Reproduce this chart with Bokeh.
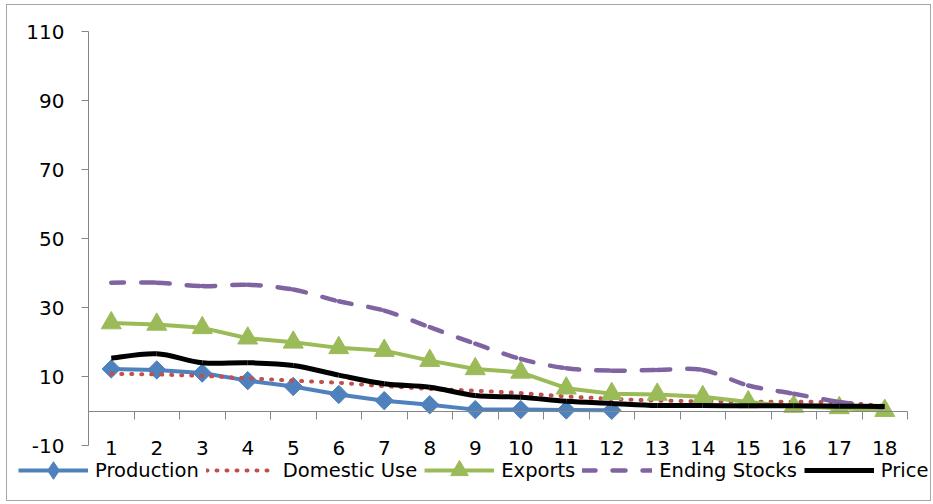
import numpy as np
from bokeh.plotting import figure
from bokeh.models import Range1d, LinearAxis, FixedTicker, Legend, LegendItem
from bokeh.embed import file_html
from bokeh.resources import INLINE

# Series values per period
years = list(range(1, 19))
production = [12.2, 11.9, 11.0, 8.8, 7.1, 4.8, 3.0, 1.8, 0.4, 0.4, 0.3, 0.2]
domestic_use = [10.8, 10.6, 10.2, 9.5, 8.8, 8.2, 7.2, 6.4, 5.9, 5.2, 4.2, 3.5,
                3.0, 2.8, 2.7, 2.7, 2.6, 1.4]
exports = [25.5, 25.1, 24.1, 21.1, 19.9, 18.3, 17.5, 14.6, 12.2, 11.2, 6.6, 5.0,
           4.8, 4.1, 2.6, 1.3, 0.9, 0.1]
ending_stocks = [37.2, 37.2, 36.2, 36.6, 35.2, 31.8, 29.1, 24.3, 19.5, 15.1, 12.4,
                 11.7, 11.9, 11.9, 7.4, 5.0, 2.6, 0.9]
price = [15.3, 16.6, 14.0, 14.0, 13.2, 10.4, 7.9, 6.9, 4.5, 4.0, 2.8, 2.2,
         1.6, 1.6, 1.5, 1.5, 1.4, 1.3]
y_ticks = [-10, 10, 30, 50, 70, 90, 110]

BLUE = "#4F81BD"
RED = "#C0504D"
GREEN = "#9BBB59"
PURPLE = "#8064A2"
AXIS = "#868686"
FONT = "DejaVu Sans"

# Canvas and plotting-area geometry (pixels)
W, H = 925, 497
AREA_L, AREA_R = 81, 900      # x extent of the category area
AREA_T, AREA_B = 26, 440      # y extent of the value axis (110 .. -10)
X_LO, X_HI = 0.5, len(years) + 0.5
Y_LO, Y_HI = y_ticks[0], y_ticks[-1]


def padded_range(lo, hi, start_px, end_px, total_px):
    per = (end_px - start_px) / (hi - lo)
    return lo - start_px / per, hi + (total_px - end_px) / per


x0, x1 = padded_range(X_LO, X_HI, AREA_L, AREA_R, W)
y0, y1 = padded_range(Y_LO, Y_HI, H - AREA_B, H - AREA_T, H)


def smooth_segments(xs, ys):
    """Cubic Bezier pieces for a smoothed line through the given points."""
    xs = np.asarray(xs, float)
    ys = np.asarray(ys, float)
    n = len(xs)
    seg = dict(x0=[], y0=[], x1=[], y1=[], cx0=[], cy0=[], cx1=[], cy1=[])
    for i in range(n - 1):
        a = max(i - 1, 0)
        b = min(i + 2, n - 1)
        seg["x0"].append(xs[i]); seg["y0"].append(ys[i])
        seg["x1"].append(xs[i + 1]); seg["y1"].append(ys[i + 1])
        seg["cx0"].append(xs[i] + (xs[i + 1] - xs[a]) / 6)
        seg["cy0"].append(ys[i] + (ys[i + 1] - ys[a]) / 6)
        seg["cx1"].append(xs[i + 1] - (xs[b] - xs[i]) / 6)
        seg["cy1"].append(ys[i + 1] - (ys[b] - ys[i]) / 6)
    return seg


p = figure(width=W, height=H,
           x_range=Range1d(x0, x1), y_range=Range1d(y0, y1),
           output_backend="svg", toolbar_location=None,
           x_axis_location=None, y_axis_location=None,
           min_border=0)
p.styles = {"border": "1px solid #a6a6a6", "margin-left": "6px", "margin-top": "4px"}
p.outline_line_color = None
p.grid.visible = False
p.background_fill_color = "white"
p.border_fill_color = "white"

# value axis, stopping at -10 and 110
ya = LinearAxis(fixed_location=X_LO, bounds=(Y_LO, Y_HI),
                ticker=FixedTicker(ticks=y_ticks, minor_ticks=[]))
ya.major_label_overrides = {v: str(v) for v in y_ticks}
ya.axis_line_color = AXIS
ya.major_tick_line_color = AXIS
ya.major_tick_out = 7
ya.major_tick_in = 0
ya.minor_tick_out = 0
ya.minor_tick_in = 0
ya.major_label_text_font = FONT
ya.major_label_text_font_size = "20px"
ya.major_label_text_color = "black"
ya.major_label_standoff = 17
p.add_layout(ya, "left")

# category axis crossing at zero; boundary ticks drawn as minor ticks
xa = LinearAxis(fixed_location=0, bounds=(X_LO, X_HI),
                ticker=FixedTicker(ticks=years,
                                   minor_ticks=[k + 0.5 for k in range(0, len(years) + 1)]))
xa.axis_line_color = AXIS
xa.major_tick_out = 0
xa.major_tick_in = 0
xa.minor_tick_line_color = AXIS
xa.minor_tick_out = 8
xa.minor_tick_in = 0
xa.major_label_text_font = FONT
xa.major_label_text_font_size = "20px"
xa.major_label_text_color = "black"
xa.major_label_standoff = 22
p.add_layout(xa, "below")

# Production
prod_line = p.line(years[:len(production)], production, line_color=BLUE, line_width=4)
p.scatter(years[:len(production)], production, marker="square",
          angle=np.pi / 4, size=13, fill_color=BLUE, line_color=BLUE)
prod_key = p.scatter(x=[np.nan], y=[np.nan], marker="diamond",
                     fill_color=BLUE, line_color=BLUE)

# Domestic Use
dom_line = p.line(years, domestic_use, line_color=RED, line_width=4,
                  line_dash="1 9", line_cap="round")

# Exports
exp_line = p.line(years, exports, line_color=GREEN, line_width=4)
exp_mark = p.scatter(years, exports, marker="triangle", size=20,
                     fill_color=GREEN, line_color=GREEN)

# Ending Stocks (smoothed)
es = smooth_segments(years, ending_stocks)
p.bezier(x0=es["x0"], y0=es["y0"], x1=es["x1"], y1=es["y1"],
         cx0=es["cx0"], cy0=es["cy0"], cx1=es["cx1"], cy1=es["cy1"],
         line_color=PURPLE, line_width=4.5, line_dash="13 17", line_cap="round")
es_key = p.line(x=[np.nan], y=[np.nan], line_color=PURPLE, line_width=4.5,
                line_dash="13 17", line_cap="round")

# Price (smoothed)
pr = smooth_segments(years, price)
p.bezier(x0=pr["x0"], y0=pr["y0"], x1=pr["x1"], y1=pr["y1"],
         cx0=pr["cx0"], cy0=pr["cy0"], cx1=pr["cx1"], cy1=pr["cy1"],
         line_color="black", line_width=5)
pr_key = p.line(x=[np.nan], y=[np.nan], line_color="black", line_width=5)

legend = Legend(items=[
    LegendItem(label="Production", renderers=[prod_line, prod_key]),
    LegendItem(label="Domestic Use", renderers=[dom_line]),
    LegendItem(label="Exports", renderers=[exp_line, exp_mark]),
    LegendItem(label="Ending Stocks", renderers=[es_key]),
    LegendItem(label="Price", renderers=[pr_key]),
], orientation="horizontal", location=(11, 10))
legend.glyph_width = 70
legend.glyph_height = 44
legend.label_height = 20
legend.label_standoff = 7
legend.spacing = 7
legend.padding = 0
legend.margin = 0
legend.border_line_color = None
legend.background_fill_alpha = 0
legend.label_text_font = FONT
legend.label_text_font_size = "19.5px"
legend.label_text_color = "black"
p.add_layout(legend, "center")

open("out.html", "w").write(file_html(p, INLINE))
